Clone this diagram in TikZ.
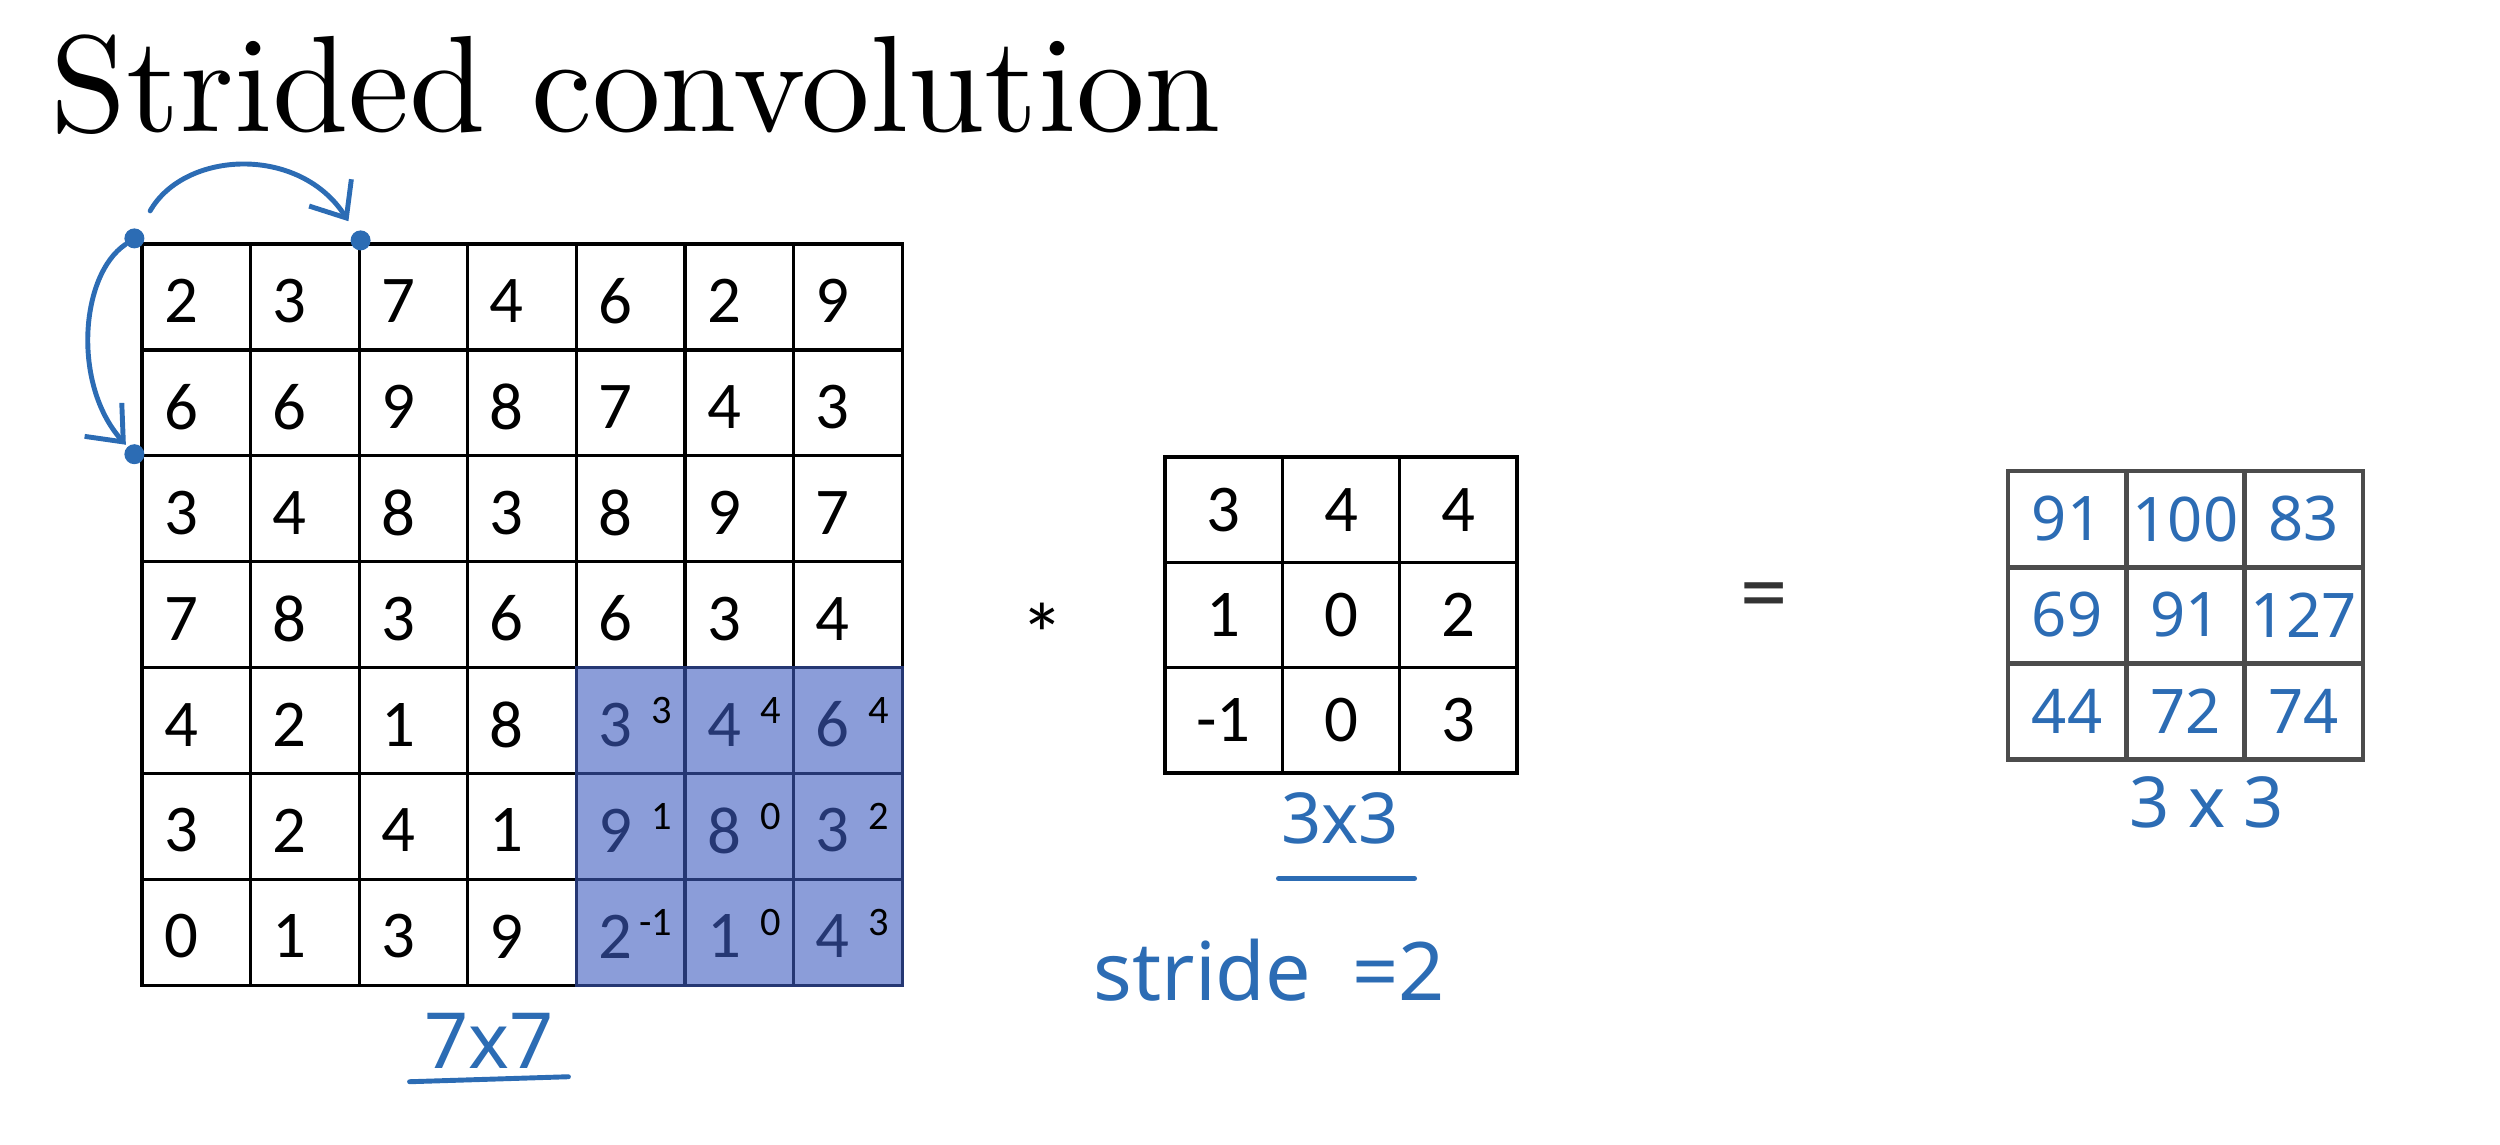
\documentclass[tikz,border=0pt]{standalone}
\usepackage{fontspec}
\usetikzlibrary{arrows.meta,positioning}
\newfontfamily\titlefont{lmroman10-regular.otf}
\newfontfamily\cellfont{Carlito}
\newfontfamily\handfont{Noto Sans}
\definecolor{handblue}{RGB}{44,108,180}
\definecolor{shadeblue}{RGB}{62,92,192}

\begin{document}
\begin{tikzpicture}[x=0.01cm, y=-0.01cm,
  cell/.style={rectangle, draw, line width=0.9pt, minimum width=1.086cm,
               minimum height=1.059cm, inner sep=0pt},
  filt/.style={cell, minimum width=1.173cm, minimum height=1.053cm,
               font=\cellfont\fontsize{19}{22}\selectfont},
  outcell/.style={rectangle, draw=black!70, line width=1.4pt,
                  minimum width=1.183cm, minimum height=0.96cm, inner sep=0pt,
                  text=handblue, font=\handfont\fontsize{17.5}{20}\selectfont},
  num/.style={inner sep=0pt, font=\cellfont\fontsize{19}{22}\selectfont},
  kern/.style={inner sep=0pt, font=\cellfont\fontsize{11.5}{13}\selectfont},
  hand/.style={inner sep=0pt, text=handblue,
               font=\handfont\fontsize{22}{26}\selectfont},
  dot/.style={circle, fill=handblue, inner sep=0pt, minimum size=2mm},
  handarr/.style={-{Straight Barb[length=3mm,width=5mm]}, handblue,
                  line width=1.4pt, line cap=round},
  handline/.style={handblue, line width=1.4pt, line cap=round},
  shade/.style={fill=shadeblue, fill opacity=0.6}
]
  \useasboundingbox (0,0) rectangle (2500,1144);

  % Title
  \node[anchor=base west, inner sep=0pt, font=\titlefont\fontsize{39}{45}\selectfont]
    (title) at (50,131) {Strided convolution};

  % 7x7 input
  \foreach \row [count=\r] in {{2,3,7,4,6,2,9},{6,6,9,8,7,4,3},{3,4,8,3,8,9,7},
      {7,8,3,6,6,3,4},{4,2,1,8,3,4,6},{3,2,4,1,9,8,3},{0,1,3,9,2,1,4}} {
    \foreach \v [count=\c] in \row {
      \pgfmathsetmacro{\x}{142 + (\c - 0.5) * 108.6}
      \pgfmathsetmacro{\y}{244 + (\r - 0.5) * 105.9}
      \node[cell] (c-\r-\c) at (\x, \y) {};
      \node[num, anchor=west] (n-\r-\c) at ([xshift=2.3mm, yshift=-0.4mm]c-\r-\c.west) {\v};
    }
  }

  % Filter position on the input
  \fill[shade] (c-5-5.north west) rectangle (c-7-7.south east);
  \foreach \k [count=\i from 0] in {3,4,4,1,0,2,-1,0,3} {
    \pgfmathtruncatemacro{\r}{5 + div(\i,3)}
    \pgfmathtruncatemacro{\c}{5 + mod(\i,3)}
    \node[kern, anchor=east] (k-\r-\c) at ([xshift=9.8mm, yshift=1mm]c-\r-\c.west) {\k};
  }

  % Stride arrows
  \node[dot] (d0) at ([xshift=-0.6mm, yshift=0.4mm]c-1-1.north west) {};
  \node[dot] (d1) at ([xshift=0.3mm, yshift=0.2mm]c-1-3.north west) {};
  \node[dot] (d2) at ([xshift=-0.6mm]c-3-1.north west) {};
  \draw[handarr, shorten <=2.1mm, shorten >=1.2mm]
    (d0) .. controls (185,150) and (300,145) .. (d1);
  \draw[handarr, shorten >=0.2mm]
    (d0) .. controls (80,275) and (72,385) .. (d2);

  % 3x3 filter
  \foreach \row [count=\r] in {{3,4,4},{1,0,2},{-1,0,3}} {
    \foreach \v [count=\c] in \row {
      \pgfmathsetmacro{\x}{1165 + (\c - 0.5) * 117.3}
      \pgfmathsetmacro{\y}{457 + (\r - 0.5) * 105.3}
      \node[filt] (f-\r-\c) at (\x, \y) {\v};
    }
  }

  % 3x3 output
  \foreach \row [count=\r] in {{91,100,83},{69,91,127},{44,72,74}} {
    \foreach \v [count=\c] in \row {
      \pgfmathsetmacro{\x}{2008 + (\c - 0.5) * 118.3}
      \pgfmathsetmacro{\y}{471 + (\r - 0.5) * 96}
      \node[outcell] (o-\r-\c) at (\x, \y) {\v};
    }
  }

  % Operators
  \node[num, anchor=base, font=\cellfont\fontsize{25}{28}\selectfont]
    (star) at (1042,665) {*};
  \node[inner sep=0pt, anchor=base, text=black!80,
        font=\cellfont\fontsize{27}{30}\selectfont] (eq) at (1764,623) {=};

  % Handwritten notes
  \node[hand, anchor=base] (lab77) at (489,1068) {7x7};
  \draw[handline] ([xshift=-1.4mm, yshift=-1.3mm]lab77.south west)
    -- ([xshift=1.4mm, yshift=-0.8mm]lab77.south east);
  \node[hand, anchor=base, font=\handfont\fontsize{20}{24}\selectfont]
    (lab33) at (1340,843) {3x3};
  \draw[handline] ([xshift=-0.2mm, yshift=-3.4mm]lab33.south west)
    -- ([xshift=1.5mm, yshift=-3.4mm]lab33.south east);
  \node[hand, anchor=base west, font=\handfont\fontsize{23}{27}\selectfont]
    (stride) at (1093,1000) {stride \hspace{2mm}=2};
  \node[hand, anchor=base, font=\handfont\fontsize{20}{24}\selectfont]
    (labout) at (2207,827) {3 x 3};
\end{tikzpicture}
\end{document}
